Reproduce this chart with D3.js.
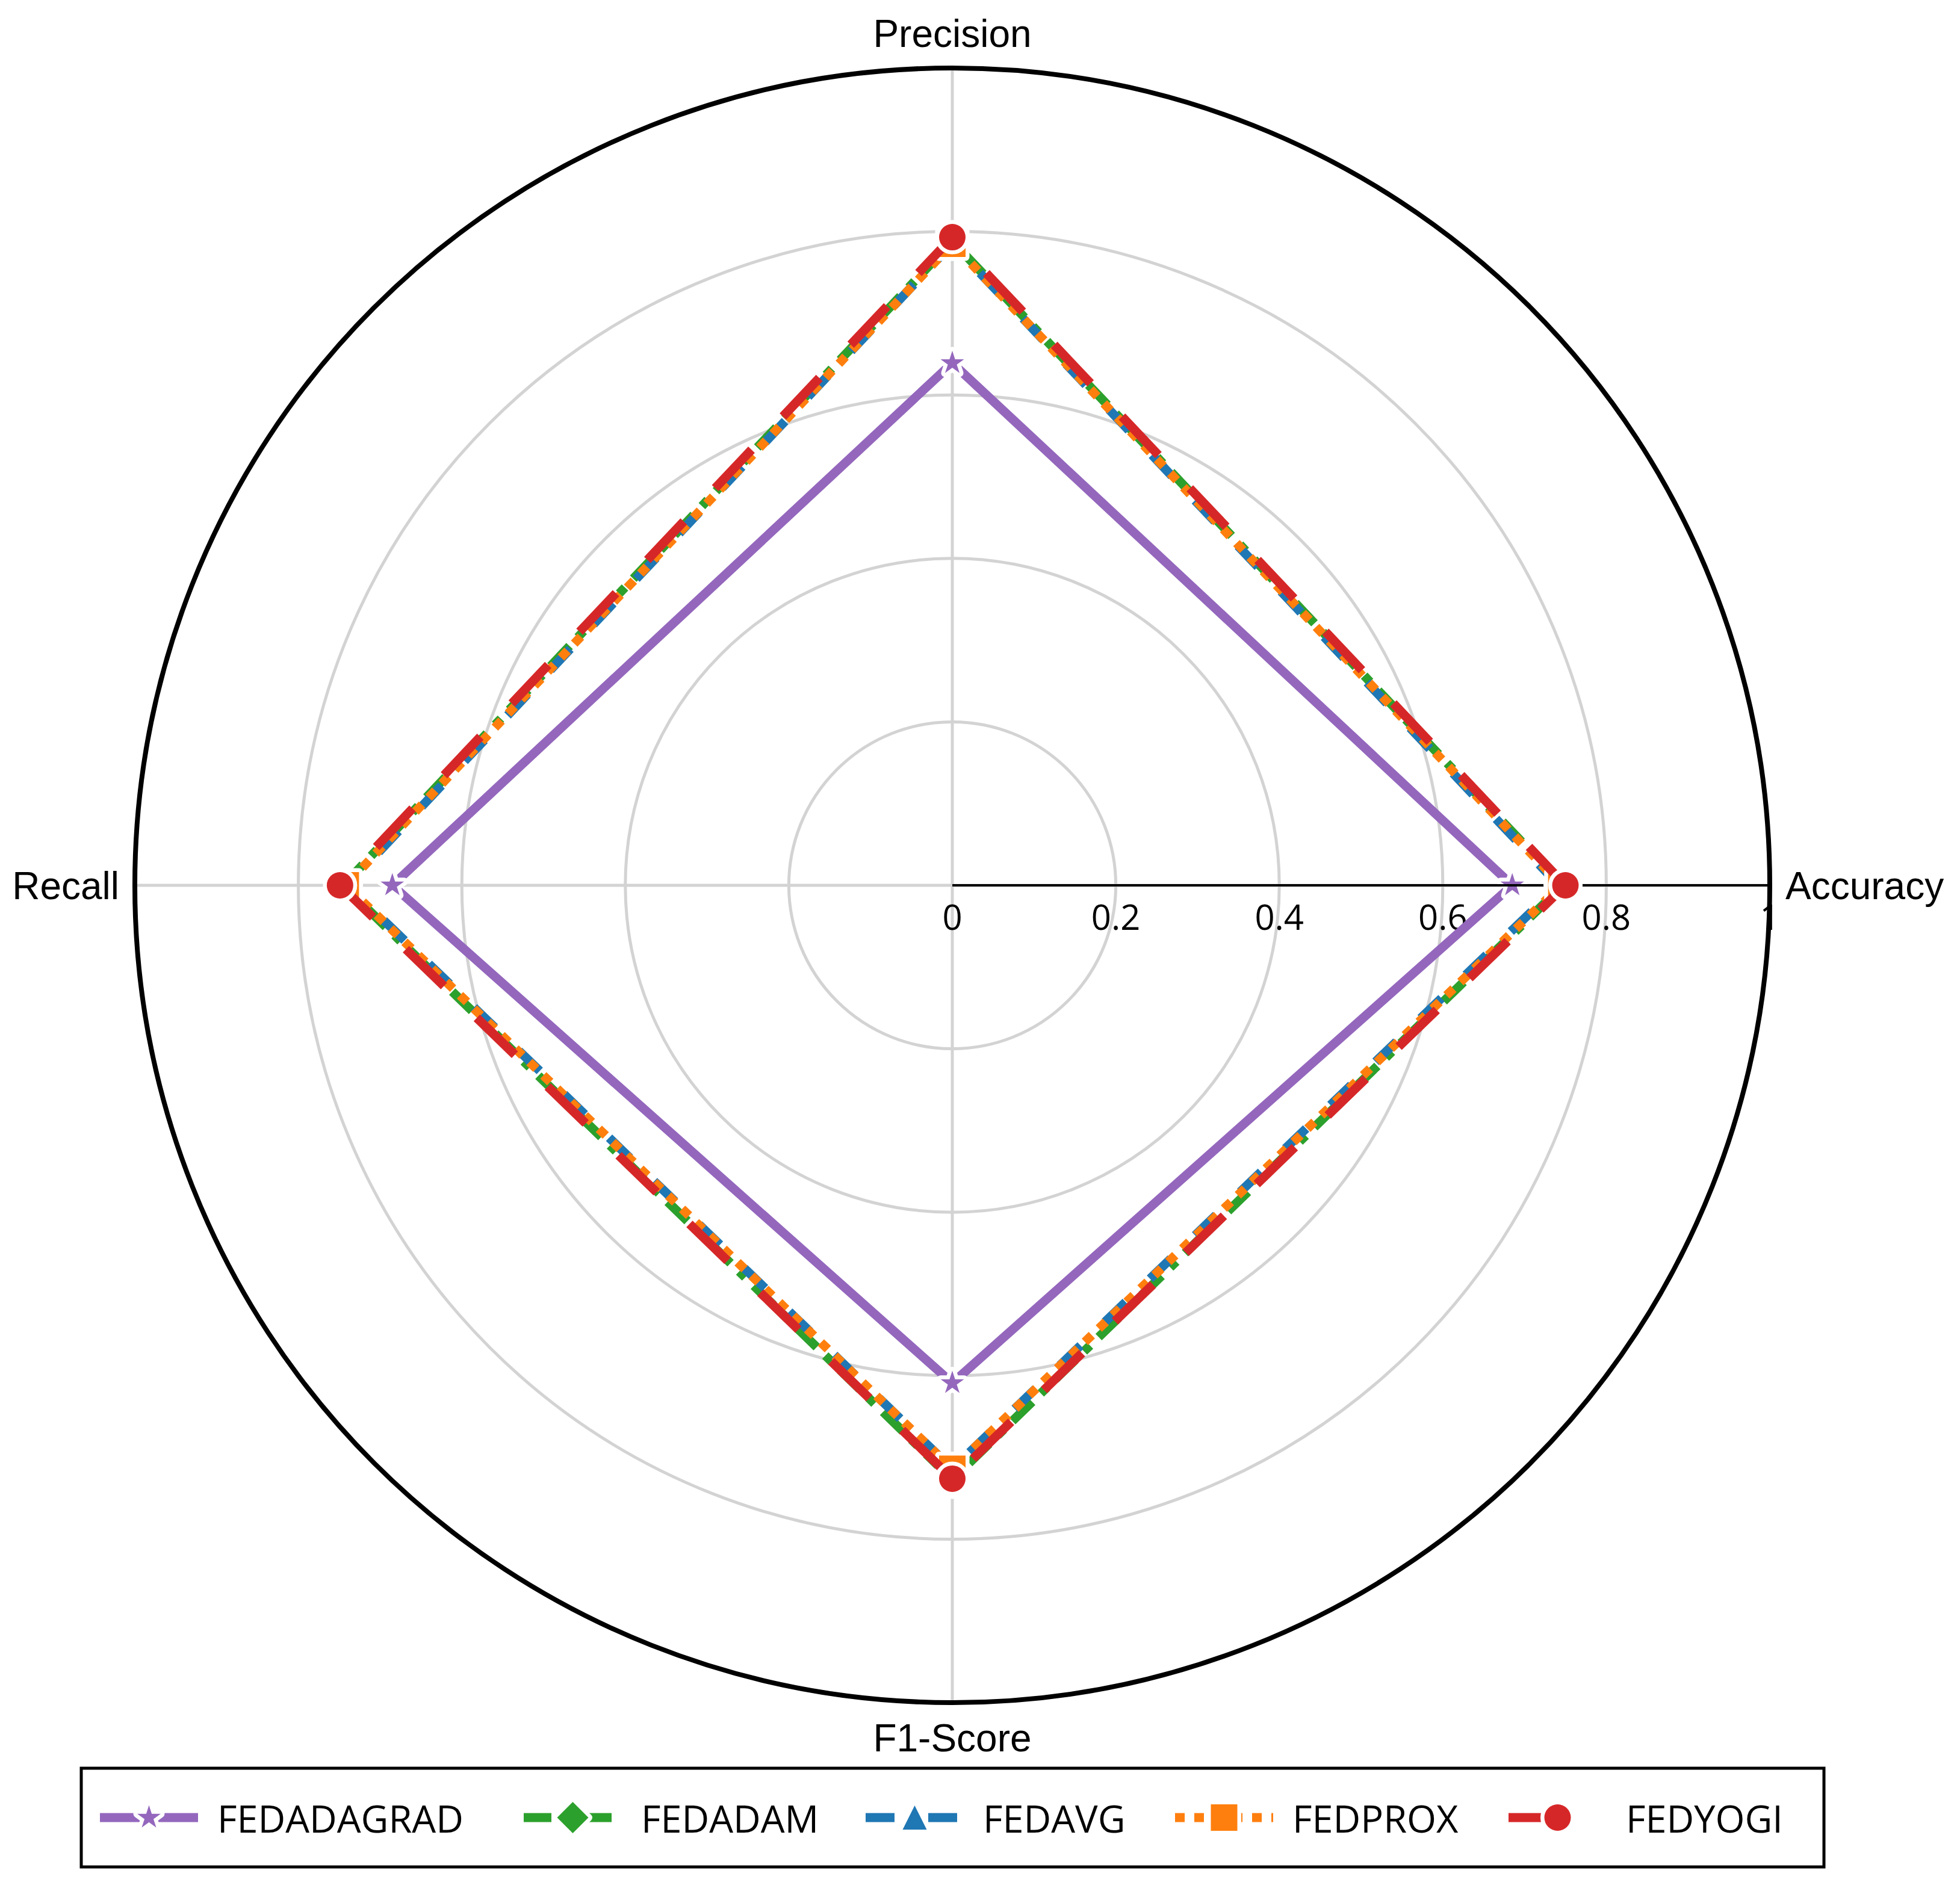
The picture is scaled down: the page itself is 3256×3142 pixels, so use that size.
<!DOCTYPE html>
<html>
<head>
<meta charset="utf-8">
<script src="https://cdn.jsdelivr.net/npm/d3@7"></script>
<style>
  html, body { margin: 0; padding: 0; background: #ffffff; }
  svg { display: block; }
</style>
</head>
<body>
<svg id="chart" width="3256" height="3142"></svg>
<script>
// ---------------- DATA ----------------
const categories = ["Accuracy", "Precision", "Recall", "F1-Score"];
const seriesNames = ["FEDADAGRAD", "FEDADAM", "FEDAVG", "FEDPROX", "FEDYOGI"];
const fedadagrad = [0.685, 0.639, 0.685, 0.609];
const fedadam    = [0.747, 0.788, 0.745, 0.727];
const fedavg     = [0.742, 0.785, 0.740, 0.714];
const fedprox    = [0.745, 0.785, 0.742, 0.714];
const fedyogi    = [0.750, 0.793, 0.749, 0.726];
const tickValues = [0, 0.2, 0.4, 0.6, 0.8, 1];
const tickLabels = ["0", "0.2", "0.4", "0.6", "0.8", "1"];
const gridValues = [0.2, 0.4, 0.6, 0.8];

// ---------------- STYLE / LAYOUT ----------------
const seriesValues = [fedadagrad, fedadam, fedavg, fedprox, fedyogi];
const colors = ["#9467bd", "#2ca02c", "#1f77b4", "#ff7f0e", "#d62728"];
const dashes = ["none", "46,20,14,20", "48,56", "16,16", "88,76"];
const markerKinds = ["star", "diamond", "triangle", "square", "circle"];

const W = 3256, H = 3142;
const cx = 1582, cy = 1471, R = 1358;
const lineW = 15;

const svg = d3.select("#chart");
svg.append("rect").attr("width", W).attr("height", H).attr("fill", "#fff");

const rScale = d3.scaleLinear().domain([0, 1]).range([0, R]);
const n = categories.length;
// d3 radial angle: 0 = up, clockwise. Accuracy at right, counter-clockwise order.
const angleScale = d3.scaleLinear().domain([0, n]).range([Math.PI / 2, Math.PI / 2 - 2 * Math.PI]);

const g = svg.append("g").attr("transform", `translate(${cx},${cy})`);

// grid circles
g.selectAll("circle.grid").data(gridValues).join("circle")
  .attr("class", "grid")
  .attr("r", d => rScale(d))
  .attr("fill", "none").attr("stroke", "#d3d3d3").attr("stroke-width", 5);

// radial gridlines
g.selectAll("line.spoke").data(categories).join("line")
  .attr("class", "spoke")
  .attr("x1", 0).attr("y1", 0)
  .attr("x2", (d, i) => rScale(1) * Math.sin(angleScale(i)))
  .attr("y2", (d, i) => -rScale(1) * Math.cos(angleScale(i)))
  .attr("stroke", "#d3d3d3").attr("stroke-width", 5);

// tick labels (drawn under the spine)
g.selectAll("text.tick").data(tickValues).join("text")
  .attr("class", "tick")
  .attr("x", d => rScale(d))
  .attr("y", 74)
  .attr("text-anchor", "middle")
  .attr("font-family", "'Open Sans', sans-serif")
  .attr("font-size", 58)
  .attr("fill", "#000")
  .text((d, i) => tickLabels[i]);

// symbol types
const triangleType = { draw(ctx, size) { const h = Math.sqrt(size) / 2; ctx.moveTo(0, -h); ctx.lineTo(h, h); ctx.lineTo(-h, h); ctx.closePath(); } };
const diamondType = { draw(ctx, size) { const h = Math.sqrt(size) / 2; ctx.moveTo(0, -h); ctx.lineTo(h, 0); ctx.lineTo(0, h); ctx.lineTo(-h, 0); ctx.closePath(); } };
const symbolDefs = {
  star: { type: d3.symbolStar, size: 472 },
  diamond: { type: diamondType, size: 52 * 52 },
  triangle: { type: triangleType, size: 40 * 40 },
  square: { type: d3.symbolSquare, size: 44 * 44 },
  circle: { type: d3.symbolCircle, size: Math.PI * 22 * 22 }
};
function symPath(kind) {
  return d3.symbol().type(symbolDefs[kind].type).size(symbolDefs[kind].size)();
}

const radialLine = d3.lineRadial()
  .angle((d, i) => angleScale(i))
  .radius(d => rScale(d))
  .curve(d3.curveLinearClosed);

function drawSeries(si) {
  const vals = seriesValues[si];
  const sg = g.append("g");
  sg.append("path")
    .attr("d", radialLine(vals))
    .attr("fill", "none")
    .attr("stroke", colors[si])
    .attr("stroke-width", lineW)
    .attr("stroke-dasharray", dashes[si])
    .attr("stroke-linejoin", "round");
  sg.selectAll("path.mk").data(vals).join("path")
    .attr("class", "mk")
    .attr("d", symPath(markerKinds[si]))
    .attr("transform", (d, i) => {
      const a = angleScale(i);
      return `translate(${rScale(d) * Math.sin(a)},${-rScale(d) * Math.cos(a)})`;
    })
    .attr("fill", colors[si])
    .attr("stroke", "#fff")
    .attr("stroke-width", 13)
    .attr("stroke-linejoin", "round")
    .style("paint-order", "stroke");
}

drawSeries(0);
// black radial axis line at Accuracy direction
g.append("line")
  .attr("x1", 0).attr("y1", 0)
  .attr("x2", rScale(1) * Math.sin(angleScale(0)))
  .attr("y2", -rScale(1) * Math.cos(angleScale(0)))
  .attr("stroke", "#000").attr("stroke-width", 4);
for (let si = 1; si < seriesValues.length; si++) drawSeries(si);

// outer spine
g.append("circle").attr("r", rScale(1)).attr("fill", "none")
  .attr("stroke", "#000").attr("stroke-width", 8);

// category labels
const labelFont = "'Liberation Sans', Arial, sans-serif";
g.selectAll("text.cat").data(categories).join("text")
  .attr("class", "cat")
  .attr("font-family", labelFont)
  .attr("font-size", 64)
  .attr("fill", "#000")
  .each(function (d, i) {
    const a = angleScale(i);
    const sx = Math.sin(a), sy = -Math.cos(a);
    const el = d3.select(this);
    if (Math.abs(sx) > 0.5) {
      el.attr("x", sx * 1384).attr("y", sy * 1384 + 23)
        .attr("text-anchor", sx > 0 ? "start" : "end");
    } else {
      el.attr("x", 0).attr("y", sy * 1416 + 23).attr("text-anchor", "middle");
    }
  })
  .text(d => d);

// ---------------- LEGEND ----------------
const legendBox = { x: 135, y: 2938, w: 2895, h: 164 };
const legendStarts = [166, 870, 1438, 1952, 2506];
const handleLen = 163, textOffset = 195, legendY = 3020;

svg.append("rect")
  .attr("x", legendBox.x).attr("y", legendBox.y)
  .attr("width", legendBox.w).attr("height", legendBox.h)
  .attr("fill", "#fff").attr("stroke", "#000").attr("stroke-width", 5);

const lg = svg.append("g");
seriesNames.forEach((name, si) => {
  const x0 = legendStarts[si];
  lg.append("line")
    .attr("x1", x0).attr("x2", x0 + handleLen)
    .attr("y1", legendY).attr("y2", legendY)
    .attr("stroke", colors[si]).attr("stroke-width", lineW)
    .attr("stroke-dasharray", dashes[si]);
  lg.append("path")
    .attr("d", symPath(markerKinds[si]))
    .attr("transform", `translate(${x0 + handleLen / 2},${legendY})`)
    .attr("fill", colors[si]).attr("stroke", "#fff").attr("stroke-width", 13)
    .attr("stroke-linejoin", "round").style("paint-order", "stroke");
  lg.append("text")
    .attr("x", x0 + textOffset).attr("y", 3045)
    .attr("font-family", "'Open Sans', sans-serif")
    .attr("font-size", 63).attr("fill", "#000")
    .text(name);
});
</script>
</body>
</html>
